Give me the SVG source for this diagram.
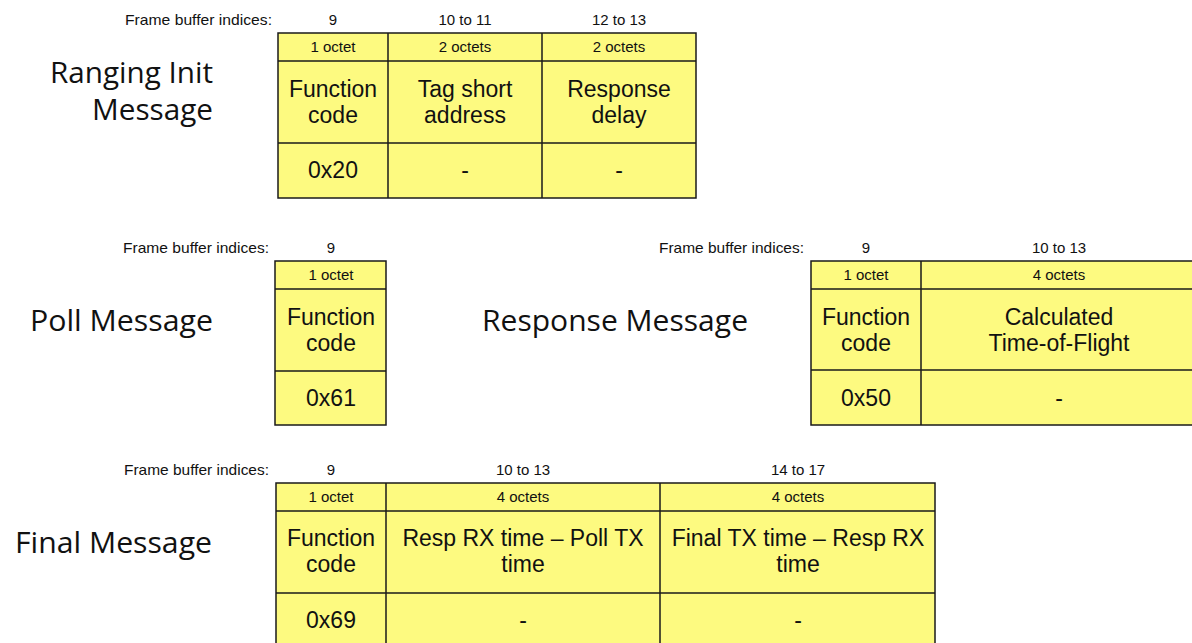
<svg xmlns="http://www.w3.org/2000/svg" width="1192" height="643" viewBox="0 0 1192 643">
<style>
.cell{fill:#fdfa80;stroke:#1a1a1a;stroke-width:1.5}
.ln{stroke:#1a1a1a;stroke-width:1.5;fill:none}
.sm{font-family:"Liberation Sans",Arial,sans-serif;font-size:15px;fill:#111;text-anchor:middle}
.lb{font-family:"Liberation Sans",Arial,sans-serif;font-size:15px;fill:#111;text-anchor:start}
.md{font-family:"Liberation Sans",Arial,sans-serif;font-size:23px;fill:#111;text-anchor:middle}
.tt{font-family:"Open Sans","Noto Sans",sans-serif;font-size:30px;fill:#111}
</style>
<rect width="1192" height="643" fill="#fff"/>

<g id="ranging-init">
<text class="tt" x="50" y="83" textLength="163" lengthAdjust="spacingAndGlyphs">Ranging Init</text>
<text class="tt" x="92" y="120" textLength="121" lengthAdjust="spacingAndGlyphs">Message</text>
<text class="lb" x="125" y="25" textLength="147" lengthAdjust="spacingAndGlyphs">Frame buffer indices:</text>
<text class="sm" x="333" y="25">9</text>
<text class="sm" x="465" y="25">10 to 11</text>
<text class="sm" x="619" y="25">12 to 13</text>
<rect class="cell" x="278" y="33" width="418" height="165"/>
<path class="ln" d="M278 61H696M278 143H696M388 33V198M542 33V198"/>
<text class="sm" x="333" y="52">1 octet</text>
<text class="sm" x="465" y="52">2 octets</text>
<text class="sm" x="619" y="52">2 octets</text>
<text class="md" x="333" y="97">Function</text>
<text class="md" x="333" y="123">code</text>
<text class="md" x="465" y="97">Tag short</text>
<text class="md" x="465" y="123">address</text>
<text class="md" x="619" y="97">Response</text>
<text class="md" x="619" y="123">delay</text>
<text class="md" x="333" y="178">0x20</text>
<text class="md" x="465" y="178">-</text>
<text class="md" x="619" y="178">-</text>
</g>

<g id="poll">
<text class="tt" x="30" y="331" textLength="183" lengthAdjust="spacingAndGlyphs">Poll Message</text>
<text class="lb" x="123" y="253" textLength="146" lengthAdjust="spacingAndGlyphs">Frame buffer indices:</text>
<text class="sm" x="331" y="253">9</text>
<rect class="cell" x="275" y="261" width="111" height="164"/>
<path class="ln" d="M275 289H386M275 371H386"/>
<text class="sm" x="331" y="280">1 octet</text>
<text class="md" x="331" y="325">Function</text>
<text class="md" x="331" y="351">code</text>
<text class="md" x="331" y="406">0x61</text>
</g>

<g id="response">
<text class="tt" x="482" y="331" textLength="266" lengthAdjust="spacingAndGlyphs">Response Message</text>
<text class="lb" x="659" y="253" textLength="145" lengthAdjust="spacingAndGlyphs">Frame buffer indices:</text>
<text class="sm" x="866" y="253">9</text>
<text class="sm" x="1059" y="253">10 to 13</text>
<rect class="cell" x="811" y="261" width="386" height="164"/>
<path class="ln" d="M811 289H1197M811 370H1197M921 261V425"/>
<text class="sm" x="866" y="280">1 octet</text>
<text class="sm" x="1059" y="280">4 octets</text>
<text class="md" x="866" y="325">Function</text>
<text class="md" x="866" y="351">code</text>
<text class="md" x="1059" y="325">Calculated</text>
<text class="md" x="1059" y="351">Time-of-Flight</text>
<text class="md" x="866" y="406">0x50</text>
<text class="md" x="1059" y="406">-</text>
</g>

<g id="final">
<text class="tt" x="15" y="553" textLength="197" lengthAdjust="spacingAndGlyphs">Final Message</text>
<text class="lb" x="124" y="475" textLength="145" lengthAdjust="spacingAndGlyphs">Frame buffer indices:</text>
<text class="sm" x="331" y="475">9</text>
<text class="sm" x="523" y="475">10 to 13</text>
<text class="sm" x="798" y="475">14 to 17</text>
<rect class="cell" x="276" y="483" width="659" height="165"/>
<path class="ln" d="M276 511H935M276 593H935M386 483V648M660 483V648"/>
<text class="sm" x="331" y="502">1 octet</text>
<text class="sm" x="523" y="502">4 octets</text>
<text class="sm" x="798" y="502">4 octets</text>
<text class="md" x="331" y="546">Function</text>
<text class="md" x="331" y="572">code</text>
<text class="md" x="523" y="546">Resp RX time – Poll TX</text>
<text class="md" x="523" y="572">time</text>
<text class="md" x="798" y="546">Final TX time – Resp RX</text>
<text class="md" x="798" y="572">time</text>
<text class="md" x="331" y="628">0x69</text>
<text class="md" x="523" y="628">-</text>
<text class="md" x="798" y="628">-</text>
</g>
</svg>
